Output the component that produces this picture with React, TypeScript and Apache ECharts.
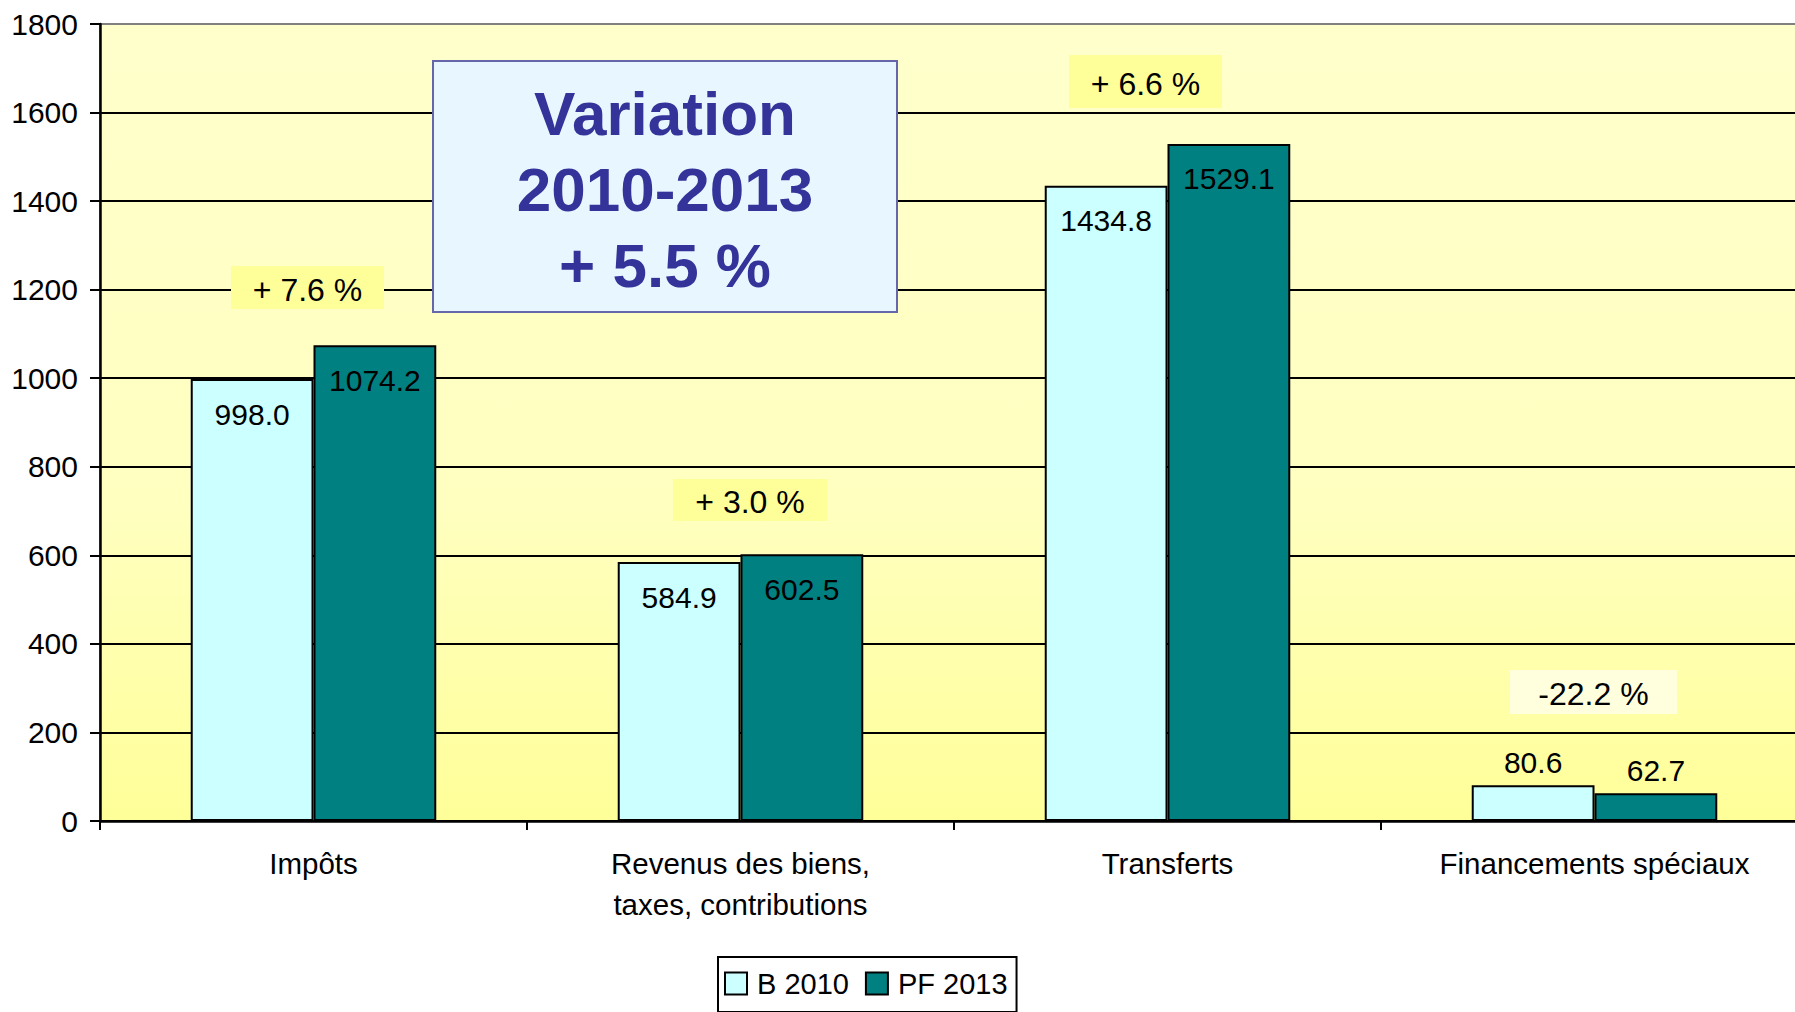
import React, { useEffect, useRef } from "react";
import * as echarts from "echarts";

const categories = ["Impôts", "Revenus des biens,\ntaxes, contributions", "Transferts", "Financements spéciaux"];
const seriesNames = ["B 2010", "PF 2013"];
const b2010 = [998.0, 584.9, 1434.8, 80.6];
const pf2013 = [1074.2, 602.5, 1529.1, 62.7];
const variations = ["+ 7.6 %", "+ 3.0 %", "+ 6.6 %", "-22.2 %"];
const yTicks = { min: 0, max: 1800, interval: 200 };

const FONT = "'Liberation Sans', Arial, sans-serif";

export default function App() {
  const ref = useRef<HTMLDivElement>(null);
  useEffect(() => {
    document.body.style.margin = "0";
    if (!ref.current) return;
    const chart = echarts.init(ref.current, undefined, { renderer: "svg" });

    const mkData = (vals: number[]) =>
      vals.map((v, i) =>
        i === 3
          ? { value: v, label: { position: "top", distance: 8 } }
          : { value: v }
      );

    const labelCfg = {
      show: true,
      position: "insideTop",
      distance: 20,
      color: "#000",
      fontSize: 30,
      fontFamily: FONT,
      formatter: (p: any) => Number(p.value).toFixed(1),
    };

    const pctBoxes = [
      { x: 231, y: 266, w: 153, h: 43, fill: "#FFFF99" },
      { x: 673, y: 479, w: 154, h: 42, fill: "#FFFF99" },
      { x: 1069, y: 55, w: 153, h: 53, fill: "#FFFF99" },
      { x: 1510, y: 670, w: 167, h: 44, fill: "#FFFFDD" },
    ];

    const graphics: any[] = [];
    pctBoxes.forEach((b, i) => {
      graphics.push({
        type: "rect",
        shape: { x: b.x, y: b.y, width: b.w, height: b.h },
        style: { fill: b.fill },
        z: 10,
      });
      graphics.push({
        type: "text",
        x: b.x + b.w / 2,
        y: b.y + b.h / 2 + 2,
        style: {
          text: variations[i],
          fill: "#000",
          font: `32px ${FONT}`,
          textAlign: "center",
          textVerticalAlign: "middle",
        },
        z: 11,
      });
    });
    graphics.push({
      type: "rect",
      shape: { x: 433, y: 61, width: 464, height: 251 },
      style: { fill: "#E8F6FF", stroke: "#6666AA", lineWidth: 2 },
      z: 10,
    });
    ["Variation", "2010-2013", "+ 5.5 %"].forEach((t, i) => {
      graphics.push({
        type: "text",
        x: 665,
        y: 113 + i * 76,
        style: {
          text: t,
          fill: "#333399",
          font: `bold 62px ${FONT}`,
          textAlign: "center",
          textVerticalAlign: "middle",
        },
        z: 11,
      });
    });

    chart.setOption({
      animation: false,
      backgroundColor: "#fff",
      grid: {
        left: 100,
        top: 24,
        width: 1708,
        height: 797,
        show: true,
        borderColor: "#808080",
        borderWidth: 2,
        backgroundColor: new echarts.graphic.LinearGradient(0, 0, 0, 1, [
          { offset: 0, color: "#FFFFCC" },
          { offset: 0.6, color: "#FFFFC0" },
          { offset: 1, color: "#FFFF99" },
        ]),
      },
      legend: {
        data: seriesNames,
        left: 718,
        top: 957,
        orient: "horizontal",
        icon: "rect",
        itemWidth: 22,
        itemHeight: 22,
        itemGap: 16,
        padding: [12, 9, 14, 6],
        borderColor: "#000",
        borderWidth: 2,
        backgroundColor: "#fff",
        textStyle: { fontSize: 29, fontFamily: FONT, color: "#000", padding: [0, 0, 0, 5] },
        itemStyle: { borderColor: "#000", borderWidth: 2 },
      },
      xAxis: {
        type: "category",
        data: categories,
        axisLine: { show: true, lineStyle: { color: "#000", width: 2.5 } },
        axisTick: { show: true, length: 9, lineStyle: { color: "#000", width: 2 } },
        axisLabel: {
          color: "#000",
          fontSize: 29.5,
          fontFamily: FONT,
          margin: 22,
          lineHeight: 41,
          interval: 0,
        },
      },
      yAxis: {
        type: "value",
        min: yTicks.min,
        max: yTicks.max,
        interval: yTicks.interval,
        axisLine: { show: true, lineStyle: { color: "#000", width: 2.5 } },
        axisTick: { show: true, length: 10, lineStyle: { color: "#000", width: 2 } },
        axisLabel: {
          color: "#000",
          fontSize: 30,
          fontFamily: FONT,
          margin: 22,
          formatter: (v: number) => String(v),
        },
        splitLine: { show: true, showMaxLine: false, lineStyle: { color: "#000", width: 2 } },
      },
      series: [
        {
          name: seriesNames[0],
          type: "bar",
          data: mkData(b2010),
          barGap: "0%",
          barCategoryGap: "42.5%",
          itemStyle: { color: "#CCFFFF", borderColor: "#000", borderWidth: 2 },
          label: labelCfg,
        },
        {
          name: seriesNames[1],
          type: "bar",
          data: mkData(pf2013),
          barGap: "0%",
          barCategoryGap: "42.5%",
          itemStyle: { color: "#008080", borderColor: "#000", borderWidth: 2 },
          label: labelCfg,
        },
      ],
      graphic: graphics,
    });
    return () => chart.dispose();
  }, []);
  return (
    <div
      style={{ position: "absolute", left: 0, top: 0, width: 1795, height: 1012, overflow: "hidden" }}
    >
      <div ref={ref} style={{ width: 1840, height: 1012 }} />
    </div>
  );
}
